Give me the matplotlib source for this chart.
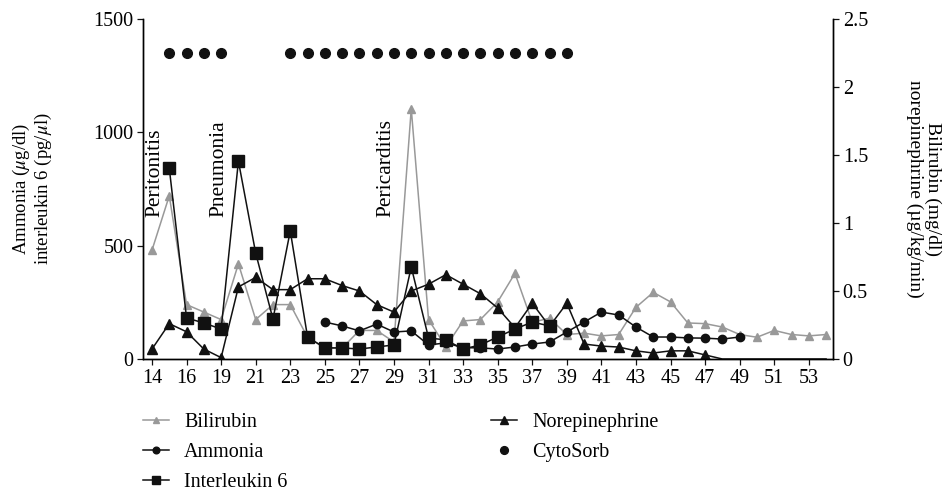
import numpy as np
import matplotlib
matplotlib.use("Agg")
import matplotlib.pyplot as plt

plt.rcParams['font.family'] = ['Liberation Serif', 'DejaVu Serif']
plt.rcParams['mathtext.fontset'] = 'stix'

nan = np.nan

# days of treatment (categorical axis)
days = ['14', '15', '16', '17', '19', '20', '21', '22', '23', '24',
        '25', '26', '27', '28', '29', '30', '31', '32', '33', '34',
        '35', '36', '37', '38', '39', '40', '41', '42', '43', '44',
        '45', '46', '47', '48', '49', '50', '51', '52', '53', '54']

# right axis: mg/dl
bilirubin = [0.80, 1.20, 0.40, 0.345, 0.29, 0.70, 0.29, 0.40, 0.40, 0.16,
             0.08, 0.08, 0.21, 0.21, 0.125, 1.84, 0.29, 0.09, 0.28, 0.29,
             0.42, 0.63, 0.27, 0.30, 0.18, 0.19, 0.17, 0.18, 0.38, 0.49,
             0.42, 0.265, 0.26, 0.235, 0.18, 0.16, 0.21, 0.18, 0.17, 0.18]

# right axis: ug/kg/min
norepinephrine = [0.073, 0.26, 0.20, 0.073, 0.01, 0.53, 0.60, 0.51, 0.51, 0.59,
                  0.59, 0.54, 0.50, 0.40, 0.345, 0.50, 0.55, 0.62, 0.55, 0.48,
                  0.375, 0.23, 0.41, 0.24, 0.41, 0.11, 0.095, 0.088, 0.06, 0.044,
                  0.06, 0.06, 0.03, 0.0, 0.0, 0.0, 0.0, 0.0, 0.0, 0.0]
nor_marked = 33  # markers only up to day 47

# left axis: ug/dl
ammonia = [nan, nan, nan, nan, nan, nan, nan, nan, nan, nan,
           163, 146, 124, 154, 119, 124, 62, 71, 50, 49,
           44, 53, 66, 75, 119, 163, 207, 194, 141, 97,
           97, 93, 92, 88, 97, nan, nan, nan, nan, nan]

# left axis: pg/ul
interleukin6 = [nan, 842, 181, 159, 132, 873, 467, 176, 565, 97,
                49, 49, 44, 53, 62, 406, 93, 84, 44, 62,
                97, 132, 163, 146, nan, nan, nan, nan, nan, nan,
                nan, nan, nan, nan, nan, nan, nan, nan, nan, nan]

cytosorb_days = ['15', '16', '17', '19', '23', '24', '25', '26', '27', '28',
                 '29', '30', '31', '32', '33', '34', '35', '36', '37', '38', '39']
cytosorb_level = 1350

events = ['Peritonitis', 'Pneumonia', 'Pericarditis']
event_pos = [0.15, 3.9, 13.55]

x = np.arange(len(days))
black = '#111111'
gray = '#999999'

fig = plt.figure(figsize=(9.52, 4.94), dpi=100)
ax = fig.add_axes([143 / 952, 1 - 359 / 494, 690 / 952, 340 / 494])
ax2 = ax.twinx()
ax.set_zorder(ax2.get_zorder() + 1)
ax.patch.set_visible(False)

l_bil, = ax2.plot(x, bilirubin, color=gray, lw=1.1, marker='^', ms=5.5,
                  label='Bilirubin')
l_nor, = ax2.plot(x, norepinephrine, color=black, lw=1.1, marker='^', ms=7.5,
                  markevery=list(range(nor_marked)), label='Norepinephrine')
l_amm, = ax.plot(x, ammonia, color=black, lw=1.1, marker='o', ms=6,
                 label='Ammonia')
l_il6, = ax.plot(x, interleukin6, color=black, lw=1.1, marker='s', ms=8,
                 label='Interleukin 6')
cx = [days.index(d) for d in cytosorb_days]
l_cyt, = ax.plot(cx, [cytosorb_level] * len(cx), ls='none', color=black,
                 marker='o', ms=7, label='CytoSorb')

for name, p in zip(events, event_pos):
    ax.text(p, 625, name, rotation=90, ha='center', va='bottom', fontsize=15.5)

ax.set_xlim(-0.52, 39.4)
ax.set_ylim(0, 1500)
ax2.set_ylim(0, 2.5)
ax.set_xticks(x[::2])
ax.set_xticklabels(days[::2])
ax.set_yticks([0, 500, 1000, 1500])
ax2.set_yticks([0, 0.5, 1, 1.5, 2, 2.5])
ax2.set_yticklabels(['0', '0.5', '1', '1.5', '2', '2.5'])

for a in (ax, ax2):
    a.spines['top'].set_visible(False)
    a.tick_params(labelsize=14.5, length=4, width=0.9, color=black, pad=3)
    for s in a.spines.values():
        s.set_linewidth(1.0)

ax.set_ylabel('Ammonia ($\\mu$g/dl)\ninterleukin 6 (pg/$\\mu$l)', fontsize=13.5,
              labelpad=28, linespacing=1.1)
ax2.set_ylabel('Bilirubin (mg/dl)\nnorepinephrine (\u00b5g/kg/min)', fontsize=14,
               rotation=270, labelpad=53, linespacing=1.1)

fig.legend(handles=[l_bil, l_amm, l_il6, l_nor, l_cyt], ncol=2, frameon=False,
           loc='upper left', bbox_to_anchor=(143 / 952, 1 - 413 / 494),
           borderpad=0, borderaxespad=0,
           fontsize=14.5, handlelength=1.3, handletextpad=0.75,
           labelspacing=0.55, columnspacing=10.1, markerscale=0.8)

fig.savefig('out.png', dpi=100)
